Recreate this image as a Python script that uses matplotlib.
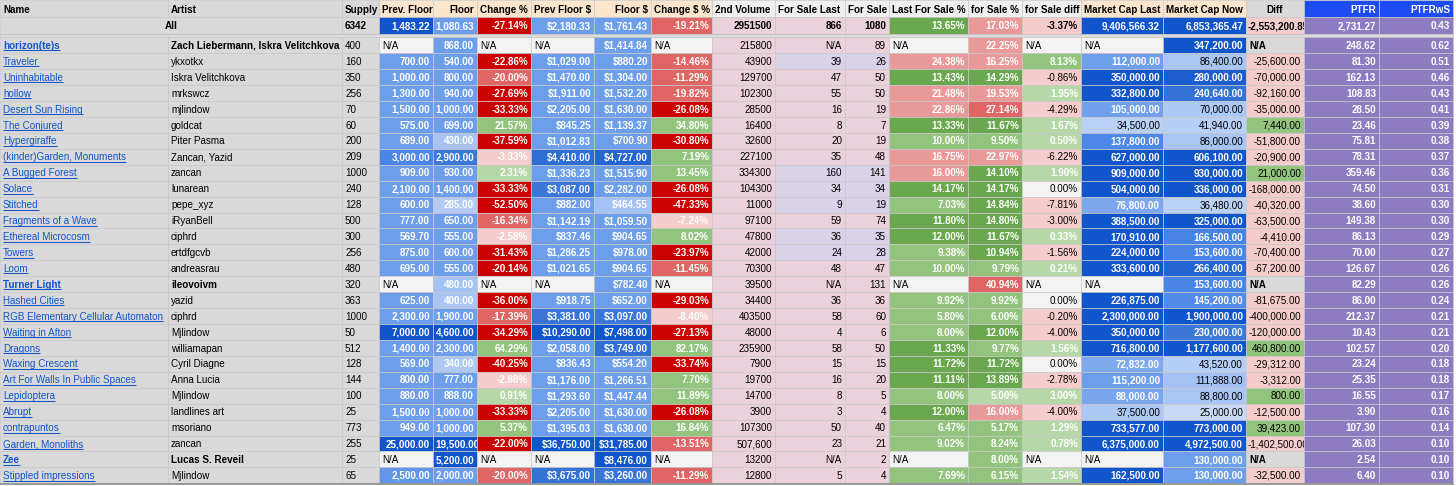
import matplotlib
matplotlib.use("Agg")
import numpy as np
import matplotlib.pyplot as plt
from matplotlib.patches import Rectangle
from matplotlib.colors import to_rgb, to_hex
from matplotlib.transforms import Bbox, TransformedBbox

plt.rcParams['font.family'] = ['Liberation Sans', 'DejaVu Sans']

# ---- data (None = N/A) ----
headers = ["Name", "Artist", "Supply", "Prev. Floor", "Floor", "Change %", "Prev Floor $",
           "Floor $", "Change $ %", "2nd Volume", "For Sale Last", "For Sale",
           "Last For Sale %", "for Sale %", "for Sale diff", "Market Cap Last",
           "Market Cap Now", "Diff", "PTFR", "PTFRwS"]

names = ["horizon(te)s", "Traveler", "Uninhabitable", "hollow", "Desert Sun Rising",
         "The Conjured", "Hypergiraffe", "(kinder)Garden, Monuments", "A Bugged Forest",
         "Solace", "Stitched", "Fragments of a Wave", "Ethereal Microcosm", "Towers", "Loom",
         "Turner Light", "Hashed Cities", "RGB Elementary Cellular Automaton",
         "Waiting in Afton", "Dragons", "Waxing Crescent", "Art For Walls In Public Spaces",
         "Lepidoptera", "Abrupt", "contrapuntos", "Garden, Monoliths", "Zee",
         "Stippled impressions"]
artists = ["Zach Liebermann, Iskra Velitchkova", "ykxotkx", "Iskra Velitchkova", "mrkswcz",
           "mjlindow", "goldcat", "Piter Pasma", "Zancan, Yazid", "zancan", "lunarean",
           "pepe_xyz", "iRyanBell", "ciphrd", "ertdfgcvb", "andreasrau", "ileovoivm", "yazid",
           "ciphrd", "Mjlindow", "williamapan", "Cyril Diagne", "Anna Lucia", "Mjlindow",
           "landlines art", "msoriano", "zancan", "Lucas S. Reveil", "Mjlindow"]
supply = [400, 160, 350, 256, 70, 60, 200, 209, 1000, 240, 128, 500, 300, 256, 480, 320, 363,
          1000, 50, 512, 128, 144, 100, 25, 773, 255, 25, 65]
prev_floor = [None, 700, 1000, 1300, 1500, 575, 689, 3000, 909, 2100, 600, 777, 569.70, 875,
              695, None, 625, 2300, 7000, 1400, 569, 800, 880, 1500, 949, 25000, None, 2500]
floor = [868, 540, 800, 940, 1000, 699, 430, 2900, 930, 1400, 285, 650, 555, 600, 555, 480,
         400, 1900, 4600, 2300, 340, 777, 888, 1000, 1000, 19500, 5200, 2000]
change_pct = [None, -22.86, -20.00, -27.69, -33.33, 21.57, -37.59, -3.33, 2.31, -33.33, -52.50,
              -16.34, -2.58, -31.43, -20.14, None, -36.00, -17.39, -34.29, 64.29, -40.25,
              -2.88, 0.91, -33.33, 5.37, -22.00, None, -20.00]
prev_floor_usd = [None, 1029.00, 1470.00, 1911.00, 2205.00, 845.25, 1012.83, 4410.00, 1336.23,
                  3087.00, 882.00, 1142.19, 837.46, 1286.25, 1021.65, None, 918.75, 3381.00,
                  10290.00, 2058.00, 836.43, 1176.00, 1293.60, 2205.00, 1395.03, 36750.00,
                  None, 3675.00]
floor_usd = [1414.84, 880.20, 1304.00, 1532.20, 1630.00, 1139.37, 700.90, 4727.00, 1515.90,
             2282.00, 464.55, 1059.50, 904.65, 978.00, 904.65, 782.40, 652.00, 3097.00,
             7498.00, 3749.00, 554.20, 1266.51, 1447.44, 1630.00, 1630.00, 31785.00, 8476.00,
             3260.00]
change_usd_pct = [None, -14.46, -11.29, -19.82, -26.08, 34.80, -30.80, 7.19, 13.45, -26.08,
                  -47.33, -7.24, 8.02, -23.97, -11.45, None, -29.03, -8.40, -27.13, 82.17,
                  -33.74, 7.70, 11.89, -26.08, 16.84, -13.51, None, -11.29]
volume_2nd = ["215800", "43900", "129700", "102300", "28500", "16400", "32600", "227100",
              "334300", "104300", "11000", "97100", "47800", "42000", "70300", "39500",
              "34400", "403500", "48000", "235900", "7900", "19700", "14700", "3900",
              "107300", "507,600", "13200", "12800"]
for_sale_last = [None, 39, 47, 55, 16, 8, 20, 35, 160, 34, 9, 59, 36, 24, 48, None, 36, 58, 4,
                 58, 15, 16, 8, 3, 50, 23, None, 5]
for_sale = [89, 26, 50, 50, 19, 7, 19, 48, 141, 34, 19, 74, 35, 28, 47, 131, 36, 60, 6, 50, 15,
            20, 5, 4, 40, 21, 2, 4]
last_for_sale_pct = [None, 24.38, 13.43, 21.48, 22.86, 13.33, 10.00, 16.75, 16.00, 14.17, 7.03,
                     11.80, 12.00, 9.38, 10.00, None, 9.92, 5.80, 8.00, 11.33, 11.72, 11.11,
                     8.00, 12.00, 6.47, 9.02, None, 7.69]
for_sale_pct = [22.25, 16.25, 14.29, 19.53, 27.14, 11.67, 9.50, 22.97, 14.10, 14.17, 14.84,
                14.80, 11.67, 10.94, 9.79, 40.94, 9.92, 6.00, 12.00, 9.77, 11.72, 13.89, 5.00,
                16.00, 5.17, 8.24, 8.00, 6.15]
for_sale_diff = [None, 8.13, -0.86, 1.95, -4.29, 1.67, 0.50, -6.22, 1.90, 0.00, -7.81, -3.00,
                 0.33, -1.56, 0.21, None, 0.00, -0.20, -4.00, 1.56, 0.00, -2.78, 3.00, -4.00,
                 1.29, 0.78, None, 1.54]
mcap_last = [None, 112000, 350000, 332800, 105000, 34500, 137800, 627000, 909000, 504000,
             76800, 388500, 170910, 224000, 333600, None, 226875, 2300000, 350000, 716800,
             72832, 115200, 88000, 37500, 733577, 6375000, None, 162500]
mcap_now = [347200, 86400, 280000, 240640, 70000, 41940, 86000, 606100, 930000, 336000, 36480,
            325000, 166500, 153600, 266400, 153600, 145200, 1900000, 230000, 1177600, 43520,
            111888, 88800, 25000, 773000, 4972500, 130000, 130000]
mcap_diff = [None, -25600, -70000, -92160, -35000, 7440, -51800, -20900, 21000, -168000,
             -40320, -63500, -4410, -70400, -67200, None, -81675, -400000, -120000, 460800,
             -29312, -3312, 800, -12500, 39423, -1402500, None, -32500]
ptfr = [248.62, 81.30, 162.13, 108.83, 28.50, 23.46, 75.81, 78.31, 359.46, 74.50, 38.60,
        149.38, 86.13, 70.00, 126.67, 82.29, 86.00, 212.37, 10.43, 102.57, 23.24, 25.35, 16.55,
        3.90, 107.30, 26.03, 2.54, 6.40]
ptfrws = [0.62, 0.51, 0.46, 0.43, 0.41, 0.39, 0.38, 0.37, 0.36, 0.31, 0.30, 0.30, 0.29, 0.27,
          0.26, 0.26, 0.24, 0.21, 0.21, 0.20, 0.18, 0.18, 0.17, 0.16, 0.14, 0.10, 0.10, 0.10]

# totals row
all_row = dict(supply=6342, prev_floor=1483.22, floor=1080.63, change=-27.14,
               prev_usd=2180.33, floor_usd=1761.43, change_usd=-19.21, volume="2951500",
               fsl=866, fs=1080, lfs=13.65, fsp=17.03, fsd=-3.37, mcl=9406566.32,
               mcn=6853365.47, diff=-2553200.85, ptfr=2731.27, ptfrws=0.43)

# ---- styling ----
col_edges = [0, 168, 342, 379, 433, 477, 531, 594, 651, 712, 775, 845, 889, 968, 1022, 1081,
             1163, 1246, 1304, 1379, 1453]
FS = 7.1
GRAY = '#d9d9d9'
NA_BG = '#f3f3f3'
PINK = '#ead1dc'
LAVENDER = '#d9d2e9'
PURPLE = '#8e7cc3'
PEACH = '#fce5cd'
LINK = '#1155cc'
lavender_rows = [1, 8, 9, 10, 12, 13]

PF_STOPS = [(560, '#6d9eeb'), (2300, '#6d9eeb'), (3000, '#4a86e8'), (7000, '#1155cc')]
FL_STOPS = [(285, '#b3cbf5'), (490, '#a4c2f4'), (530, '#6d9eeb'), (2300, '#6d9eeb'),
            (2900, '#3c78d8'), (4600, '#1155cc')]
PFD_STOPS = [(800, '#6d9eeb'), (2300, '#6d9eeb'), (3000, '#3c78d8'), (10000, '#1155cc')]
FLD_STOPS = [(464, '#a4c2f4'), (550, '#6d9eeb'), (2300, '#6d9eeb'), (3000, '#3c78d8'),
             (7000, '#1155cc')]
MCL_STOPS = [(34000, '#bcd2f7'), (40000, '#a4c2f4'), (75000, '#7ea9ee'), (115000, '#6d9eeb'),
             (140000, '#4a86e8'), (160000, '#1155cc')]
MCN_STOPS = [(25000, '#c9daf8'), (45000, '#b4cdf6'), (112000, '#a4c2f4'), (130000, '#6d9eeb'),
             (150000, '#4a86e8'), (230000, '#3c78d8'), (300000, '#1155cc')]


def ramp(v, stops):
    xs = [np.log(s[0]) for s in stops]
    cs = np.array([to_rgb(s[1]) for s in stops])
    return to_hex([np.interp(np.log(v), xs, cs[:, k]) for k in range(3)])


def change_color(v):
    if v < -20.05:
        return '#cc0000'
    if v < -10:
        return '#e06666'
    if v < 0:
        return '#f4cccc'
    if v < 5:
        return '#b6d7a8'
    return '#93c47d'


def sale_color(v):
    if v > 25:
        return '#e06666'
    if v > 15:
        return '#ea9999'
    if v > 10.5:
        return '#6aa84f'
    if v > 5.1:
        return '#93c47d'
    return '#b6d7a8'


def diff_color(v):
    if v > 5:
        return '#93c47d'
    if v > 0:
        return '#b6d7a8'
    if v == 0:
        return NA_BG
    return '#f4cccc'


def lum(c):
    r, g, b = to_rgb(c)
    return 0.299 * r + 0.587 * g + 0.114 * b


fig = plt.figure(figsize=(14.56, 4.86), dpi=100)
ax = fig.add_axes([0, 0, 1, 1])
ax.set_xlim(0, 1456)
ax.set_ylim(486, 0)
ax.axis('off')
renderer = fig.canvas.get_renderer()


def cell(c, y0, y1, bg, text=None, color='black', ha='right', bold=False, span=1,
         underline=False):
    x0, x1 = col_edges[c], col_edges[c + span]
    rect = Rectangle((x0, y0), x1 - x0, y1 - y0, facecolor=bg, edgecolor='#c8c8c8', lw=0.5)
    ax.add_patch(rect)
    if text is None:
        return
    yb = (y0 + y1) / 2 + 3.6
    x = {'right': x1 - 3, 'left': x0 + 3, 'center': (x0 + x1) / 2}[ha]
    t = ax.text(x, yb, text, ha=ha, va='baseline', fontsize=FS, color=color,
                fontweight='bold' if bold else 'normal', clip_on=True)
    # agg only clips text to rectangles, so clip to the cell box
    t.set_clip_path(None)
    t.set_clip_box(TransformedBbox(Bbox.from_extents(x0, y0, x1 - 0.5, y1), ax.transData))
    bb = t.get_window_extent(renderer)
    if ha == 'right' and bb.width > x1 - x0 - 4:
        t.set_ha('left')
        t.set_x(x0 + 2)
    if underline:
        bb = t.get_window_extent(renderer)
        ax.plot([bb.x0, bb.x1], [yb + 1.6, yb + 1.6], color=color, lw=0.75,
                solid_capstyle='butt')


def na(c, y0, y1, bg=NA_BG, bold=False):
    cell(c, y0, y1, bg, 'N/A', ha='left', bold=bold)


def money(v):
    return '{:,.2f}'.format(v)


def dollars(v):
    return '${:,.2f}'.format(v)


def pct(v):
    return '{:.2f}%'.format(v)


def blue(c, y0, y1, v, stops, fmt, dark_text_above=None):
    bg = ramp(v, stops)
    fg = 'black' if dark_text_above is not None and lum(bg) > dark_text_above else 'white'
    cell(c, y0, y1, bg, fmt(v), color=fg, bold=(fg == 'white'))


# header row
hy0, hy1 = 0.5, 17.5
header_bg = [GRAY] * 3 + [PEACH] * 6 + ['#efefef'] * 6 + [PEACH] * 2 + [GRAY] + ['#1c4cf2'] * 2
header_ha = {4: 'right', 7: 'right', 17: 'center', 18: 'right', 19: 'right'}
for c, h in enumerate(headers):
    fg = 'white' if c >= 18 else 'black'
    cell(c, hy0, hy1, header_bg[c], h, color=fg, ha=header_ha.get(c, 'left'), bold=True)

# totals row
ay0, ay1 = 17.5, 34.0
a = all_row
cell(0, ay0, ay1, GRAY, 'All', ha='center', bold=True, span=2)
cell(2, ay0, ay1, GRAY, str(a['supply']), ha='left', bold=True)
cell(3, ay0, ay1, '#1155cc', money(a['prev_floor']), color='white', bold=True)
blue(4, ay0, ay1, a['floor'], FL_STOPS, money)
cell(5, ay0, ay1, change_color(a['change']), pct(a['change']), color='white', bold=True)
blue(6, ay0, ay1, a['prev_usd'], PFD_STOPS, dollars)
blue(7, ay0, ay1, a['floor_usd'], FLD_STOPS, dollars)
cell(8, ay0, ay1, change_color(a['change_usd']), pct(a['change_usd']), color='white', bold=True)
cell(9, ay0, ay1, PINK, a['volume'], bold=True)
cell(10, ay0, ay1, PINK, str(a['fsl']), bold=True)
cell(11, ay0, ay1, PINK, str(a['fs']), bold=True)
cell(12, ay0, ay1, sale_color(a['lfs']), pct(a['lfs']), color='white', bold=True)
cell(13, ay0, ay1, sale_color(a['fsp']), pct(a['fsp']), color='white', bold=True)
cell(14, ay0, ay1, diff_color(a['fsd']), pct(a['fsd']), bold=True)
blue(15, ay0, ay1, a['mcl'], MCL_STOPS, money, 0.7)
blue(16, ay0, ay1, a['mcn'], MCN_STOPS, money, 0.7)
cell(17, ay0, ay1, diff_color(a['diff']), money(a['diff']), bold=True)
cell(18, ay0, ay1, PURPLE, money(a['ptfr']), color='white', bold=True)
cell(19, ay0, ay1, PURPLE, '{:.2f}'.format(a['ptfrws']), color='white', bold=True)

# separator band
ax.add_patch(Rectangle((0, 34.0), col_edges[-1], 3.3, facecolor='#dcdcdc', edgecolor='#bdbdbd',
                       lw=0.5))

# body rows
top, rh = 37.3, 15.93
for i in range(len(names)):
    y0, y1 = top + i * rh, top + (i + 1) * rh
    new = prev_floor[i] is None
    cell(0, y0, y1, GRAY, names[i], color=LINK, ha='left', bold=new, underline=True)
    cell(1, y0, y1, GRAY, artists[i], ha='left', bold=new)
    cell(2, y0, y1, GRAY, str(supply[i]), ha='left')
    if new:
        na(3, y0, y1)
    else:
        blue(3, y0, y1, prev_floor[i], PF_STOPS, money)
    blue(4, y0, y1, floor[i], FL_STOPS, money)
    if change_pct[i] is None:
        na(5, y0, y1)
    else:
        cell(5, y0, y1, change_color(change_pct[i]), pct(change_pct[i]), color='white', bold=True)
    if prev_floor_usd[i] is None:
        na(6, y0, y1)
    else:
        blue(6, y0, y1, prev_floor_usd[i], PFD_STOPS, dollars)
    blue(7, y0, y1, floor_usd[i], FLD_STOPS, dollars)
    if change_usd_pct[i] is None:
        na(8, y0, y1)
    else:
        cell(8, y0, y1, change_color(change_usd_pct[i]), pct(change_usd_pct[i]),
             color='white', bold=True)
    cell(9, y0, y1, PINK, volume_2nd[i])
    sale_bg = LAVENDER if i in lavender_rows else PINK
    cell(10, y0, y1, sale_bg, 'N/A' if for_sale_last[i] is None else str(for_sale_last[i]))
    cell(11, y0, y1, sale_bg, str(for_sale[i]))
    if last_for_sale_pct[i] is None:
        na(12, y0, y1)
    else:
        cell(12, y0, y1, sale_color(last_for_sale_pct[i]), pct(last_for_sale_pct[i]),
             color='white', bold=True)
    cell(13, y0, y1, sale_color(for_sale_pct[i]), pct(for_sale_pct[i]), color='white', bold=True)
    d = for_sale_diff[i]
    if d is None:
        na(14, y0, y1)
    else:
        cell(14, y0, y1, diff_color(d), pct(d), color='white' if d > 0 else 'black', bold=d > 0)
    if mcap_last[i] is None:
        na(15, y0, y1)
    else:
        blue(15, y0, y1, mcap_last[i], MCL_STOPS, money, 0.7)
    blue(16, y0, y1, mcap_now[i], MCN_STOPS, money, 0.7)
    if mcap_diff[i] is None:
        na(17, y0, y1, bg=GRAY, bold=True)
    else:
        cell(17, y0, y1, diff_color(mcap_diff[i]), money(mcap_diff[i]))
    cell(18, y0, y1, PURPLE, money(ptfr[i]), color='white', bold=True)
    cell(19, y0, y1, PURPLE, '{:.2f}'.format(ptfrws[i]), color='white', bold=True)

bottom = top + len(names) * rh
ax.plot([0, col_edges[-1]], [bottom + 0.5, bottom + 0.5], color='#8a8a8a', lw=1.2)

fig.savefig('out.png', dpi=100)
